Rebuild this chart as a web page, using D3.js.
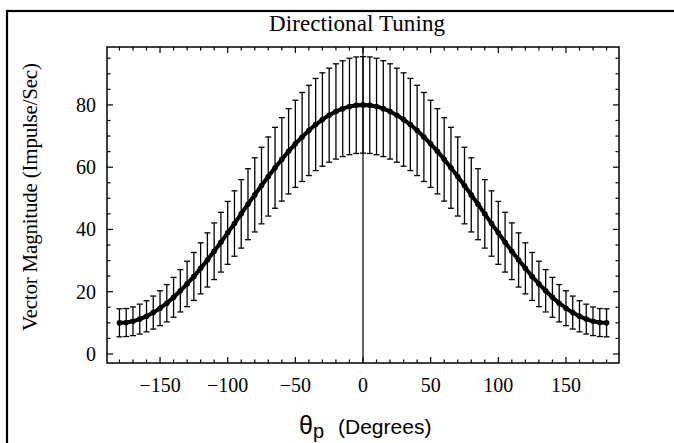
<!DOCTYPE html>
<html>
<head>
<meta charset="utf-8">
<script src="https://cdn.jsdelivr.net/npm/d3@7"></script>
<style>
  body { margin: 0; background: #fff; }
  svg { display: block; }
</style>
</head>
<body>
<svg width="674" height="443"></svg>
<script>
const angles = [-180, -175, -170, -165, -160, -155, -150, -145, -140, -135, -130, -125, -120, -115, -110, -105, -100, -95,
    -90, -85, -80, -75, -70, -65, -60, -55, -50, -45, -40, -35, -30, -25, -20, -15, -10, -5,
    0, 5, 10, 15, 20, 25, 30, 35, 40, 45, 50, 55, 60, 65, 70, 75, 80, 85,
    90, 95, 100, 105, 110, 115, 120, 125, 130, 135, 140, 145, 150, 155, 160, 165, 170, 175, 180];
const magnitude = [10.0, 10.1, 10.5, 11.2, 12.1, 13.3, 14.7, 16.3, 18.2, 20.3, 22.5, 24.9, 27.5, 30.2, 33.0, 35.9, 38.9, 41.9,
    45.0, 48.1, 51.1, 54.1, 57.0, 59.8, 62.5, 65.1, 67.5, 69.7, 71.8, 73.7, 75.3, 76.7, 77.9, 78.8, 79.5, 79.9,
    80.0, 79.9, 79.5, 78.8, 77.9, 76.7, 75.3, 73.7, 71.8, 69.7, 67.5, 65.1, 62.5, 59.8, 57.0, 54.1, 51.1, 48.1,
    45.0, 41.9, 38.9, 35.9, 33.0, 30.2, 27.5, 24.9, 22.5, 20.3, 18.2, 16.3, 14.7, 13.3, 12.1, 11.2, 10.5, 10.1, 10.0];
const errors = [4.5, 4.5, 4.6, 4.8, 5.0, 5.3, 5.6, 6.0, 6.4, 6.8, 7.3, 7.7, 8.2, 8.7, 9.1, 9.6, 10.1, 10.5,
    11.0, 11.4, 11.9, 12.3, 12.7, 13.0, 13.4, 13.7, 14.0, 14.3, 14.5, 14.8, 15.0, 15.1, 15.3, 15.4, 15.5, 15.5,
    15.5, 15.5, 15.5, 15.4, 15.3, 15.1, 15.0, 14.8, 14.5, 14.3, 14.0, 13.7, 13.4, 13.0, 12.7, 12.3, 11.9, 11.4,
    11.0, 10.5, 10.1, 9.6, 9.1, 8.7, 8.2, 7.7, 7.3, 6.8, 6.4, 6.0, 5.6, 5.3, 5.0, 4.8, 4.6, 4.5, 4.5];

const xMajorTicks = [-150, -100, -50, 0, 50, 100, 150];
const xMinorTicks = [-180, -170, -160, -140, -130, -120, -110, -90, -80, -70, -60, -40, -30, -20, -10,
    10, 20, 30, 40, 60, 70, 80, 90, 110, 120, 130, 140, 160, 170, 180];
const yMajorTicks = [0, 20, 40, 60, 80];
const yMinorTicks = [5, 10, 15, 25, 30, 35, 45, 50, 55, 65, 70, 75, 85, 90, 95];

const title = "Directional Tuning";
const yTitle = "Vector Magnitude (Impulse/Sec)";

const data = angles.map((a, i) => ({angle: a, value: magnitude[i], err: errors[i]}));

const svg = d3.select('svg');
const frame = {left: 107, right: 619, top: 47, bottom: 363};

const x = d3.scaleLinear().domain([-189.2, 189.2]).range([frame.left, frame.right]);
const y = d3.scaleLinear().domain([-2.9, 98.6]).range([frame.bottom, frame.top]);

// outer border (runs off the right and bottom edges)
svg.append('rect')
    .attr('x', 7).attr('y', 11)
    .attr('width', 720).attr('height', 500)
    .attr('fill', 'none')
    .attr('stroke', '#000')
    .attr('stroke-width', 2.2);

svg.append('text')
    .attr('x', 357).attr('y', 31)
    .attr('text-anchor', 'middle')
    .attr('font-family', 'Liberation Serif')
    .attr('font-size', 23)
    .attr('textLength', 176)
    .text(title);

// zero line
svg.append('line')
    .attr('x1', x(0)).attr('x2', x(0))
    .attr('y1', frame.top).attr('y2', frame.bottom)
    .attr('stroke', '#000')
    .attr('stroke-width', 1.2);

// error bars
const bars = svg.append('g').attr('class', 'errorbars')
    .selectAll('g')
    .data(data)
    .enter()
    .append('g')
    .attr('stroke', '#000')
    .attr('stroke-width', 1.3);
bars.append('line')
    .attr('x1', d => x(d.angle)).attr('x2', d => x(d.angle))
    .attr('y1', d => y(d.value + d.err)).attr('y2', d => y(d.value - d.err));
bars.append('line')
    .attr('x1', d => x(d.angle) - 3).attr('x2', d => x(d.angle) + 3)
    .attr('y1', d => y(d.value + d.err)).attr('y2', d => y(d.value + d.err));
bars.append('line')
    .attr('x1', d => x(d.angle) - 3).attr('x2', d => x(d.angle) + 3)
    .attr('y1', d => y(d.value - d.err)).attr('y2', d => y(d.value - d.err));

// mean curve with points
const line = d3.line().x(d => x(d.angle)).y(d => y(d.value));
svg.append('path')
    .datum(data)
    .attr('d', line)
    .attr('fill', 'none')
    .attr('stroke', '#000')
    .attr('stroke-width', 4)
    .attr('stroke-linejoin', 'round');
svg.append('g')
    .selectAll('circle')
    .data(data)
    .enter()
    .append('circle')
    .attr('cx', d => x(d.angle))
    .attr('cy', d => y(d.value))
    .attr('r', 2.8)
    .attr('fill', '#000');

// frame with inward ticks on all four sides
svg.append('rect')
    .attr('x', frame.left).attr('y', frame.top)
    .attr('width', frame.right - frame.left).attr('height', frame.bottom - frame.top)
    .attr('fill', 'none')
    .attr('stroke', '#000')
    .attr('stroke-width', 1.5);

const ticks = svg.append('g').attr('stroke', '#000').attr('stroke-width', 1.2);
const xTick = (vals, len) => {
    ticks.selectAll(null).data(vals).enter().append('line')
        .attr('x1', d => x(d)).attr('x2', d => x(d))
        .attr('y1', frame.bottom).attr('y2', frame.bottom - len);
    ticks.selectAll(null).data(vals).enter().append('line')
        .attr('x1', d => x(d)).attr('x2', d => x(d))
        .attr('y1', frame.top).attr('y2', frame.top + len);
};
const yTick = (vals, len) => {
    ticks.selectAll(null).data(vals).enter().append('line')
        .attr('y1', d => y(d)).attr('y2', d => y(d))
        .attr('x1', frame.left).attr('x2', frame.left + len);
    ticks.selectAll(null).data(vals).enter().append('line')
        .attr('y1', d => y(d)).attr('y2', d => y(d))
        .attr('x1', frame.right).attr('x2', frame.right - len);
};
xTick(xMajorTicks, 6);
xTick(xMinorTicks, 3.5);
yTick(yMajorTicks, 6);
yTick(yMinorTicks, 3.5);

const fmt = v => v < 0 ? '\u2212' + Math.abs(v) : String(v);
svg.append('g')
    .selectAll('text')
    .data(xMajorTicks)
    .enter()
    .append('text')
    .attr('x', d => x(d))
    .attr('y', 392)
    .attr('text-anchor', 'middle')
    .attr('font-family', 'Liberation Serif')
    .attr('font-size', 20)
    .text(fmt);
svg.append('g')
    .selectAll('text')
    .data(yMajorTicks)
    .enter()
    .append('text')
    .attr('x', 96)
    .attr('y', d => y(d))
    .attr('dy', '0.35em')
    .attr('text-anchor', 'end')
    .attr('font-family', 'Liberation Serif')
    .attr('font-size', 20)
    .text(fmt);

svg.append('text')
    .attr('transform', 'translate(37,197) rotate(-90)')
    .attr('text-anchor', 'middle')
    .attr('font-family', 'Liberation Serif')
    .attr('font-size', 21)
    .attr('textLength', 268)
    .text(yTitle);

const xTitle = svg.append('text')
    .attr('x', 299).attr('y', 434)
    .attr('font-family', 'Liberation Sans');
xTitle.append('tspan').attr('font-size', 25).text('\u03b8');
xTitle.append('tspan').attr('font-size', 20).attr('dy', 4).text('p');
xTitle.append('tspan').attr('font-size', 21).attr('dy', -4).attr('dx', 14).text('(Degrees)');
</script>
</body>
</html>
